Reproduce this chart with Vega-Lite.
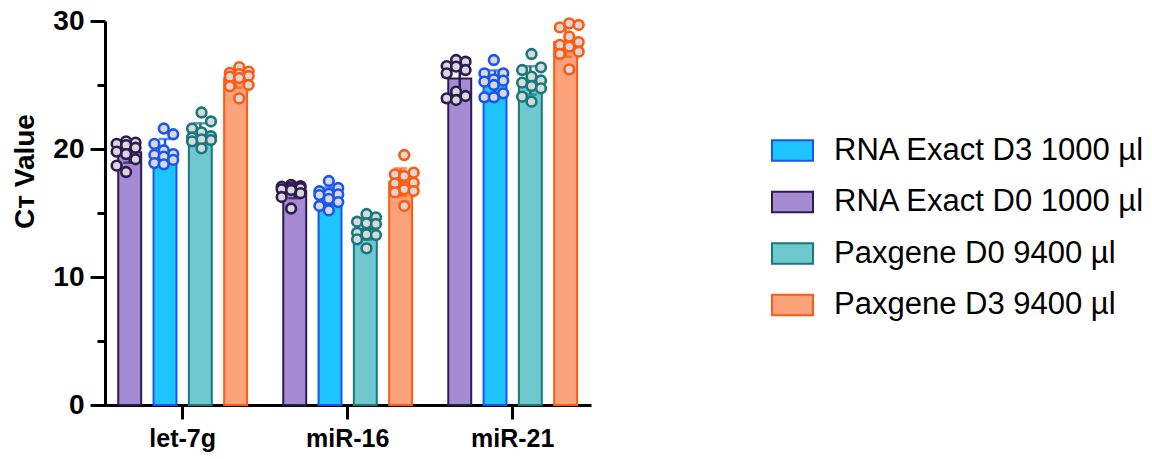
{
  "$schema": "https://vega.github.io/schema/vega-lite/v6.json",
  "width": 499,
  "height": 384,
  "autosize": {"type": "none"},
  "padding": {"left": 92, "top": 21, "right": 561, "bottom": 54},
  "config": {"view": {"stroke": null}, "font": "Liberation Sans"},
  "data": {
    "values": [
      {"gene": "let-7g", "series": "RNA Exact D0 1000 µl", "rep": 1, "ct": 20.6},
      {"gene": "let-7g", "series": "RNA Exact D0 1000 µl", "rep": 2, "ct": 20.5},
      {"gene": "let-7g", "series": "RNA Exact D0 1000 µl", "rep": 3, "ct": 20.4},
      {"gene": "let-7g", "series": "RNA Exact D0 1000 µl", "rep": 4, "ct": 20.3},
      {"gene": "let-7g", "series": "RNA Exact D0 1000 µl", "rep": 5, "ct": 20.1},
      {"gene": "let-7g", "series": "RNA Exact D0 1000 µl", "rep": 6, "ct": 19.8},
      {"gene": "let-7g", "series": "RNA Exact D0 1000 µl", "rep": 7, "ct": 19.6},
      {"gene": "let-7g", "series": "RNA Exact D0 1000 µl", "rep": 8, "ct": 19.2},
      {"gene": "let-7g", "series": "RNA Exact D0 1000 µl", "rep": 9, "ct": 18.7},
      {"gene": "let-7g", "series": "RNA Exact D0 1000 µl", "rep": 10, "ct": 18.2},
      {"gene": "let-7g", "series": "RNA Exact D3 1000 µl", "rep": 1, "ct": 21.6},
      {"gene": "let-7g", "series": "RNA Exact D3 1000 µl", "rep": 2, "ct": 21.15},
      {"gene": "let-7g", "series": "RNA Exact D3 1000 µl", "rep": 3, "ct": 20.4},
      {"gene": "let-7g", "series": "RNA Exact D3 1000 µl", "rep": 4, "ct": 19.9},
      {"gene": "let-7g", "series": "RNA Exact D3 1000 µl", "rep": 5, "ct": 19.6},
      {"gene": "let-7g", "series": "RNA Exact D3 1000 µl", "rep": 6, "ct": 19.55},
      {"gene": "let-7g", "series": "RNA Exact D3 1000 µl", "rep": 7, "ct": 19.4},
      {"gene": "let-7g", "series": "RNA Exact D3 1000 µl", "rep": 8, "ct": 19.15},
      {"gene": "let-7g", "series": "RNA Exact D3 1000 µl", "rep": 9, "ct": 18.9},
      {"gene": "let-7g", "series": "RNA Exact D3 1000 µl", "rep": 10, "ct": 18.8},
      {"gene": "let-7g", "series": "Paxgene D0 9400 µl", "rep": 1, "ct": 22.85},
      {"gene": "let-7g", "series": "Paxgene D0 9400 µl", "rep": 2, "ct": 22.15},
      {"gene": "let-7g", "series": "Paxgene D0 9400 µl", "rep": 3, "ct": 21.6},
      {"gene": "let-7g", "series": "Paxgene D0 9400 µl", "rep": 4, "ct": 21.3},
      {"gene": "let-7g", "series": "Paxgene D0 9400 µl", "rep": 5, "ct": 21.0},
      {"gene": "let-7g", "series": "Paxgene D0 9400 µl", "rep": 6, "ct": 20.9},
      {"gene": "let-7g", "series": "Paxgene D0 9400 µl", "rep": 7, "ct": 20.75},
      {"gene": "let-7g", "series": "Paxgene D0 9400 µl", "rep": 8, "ct": 20.7},
      {"gene": "let-7g", "series": "Paxgene D0 9400 µl", "rep": 9, "ct": 20.6},
      {"gene": "let-7g", "series": "Paxgene D0 9400 µl", "rep": 10, "ct": 20.05},
      {"gene": "let-7g", "series": "Paxgene D3 9400 µl", "rep": 1, "ct": 26.4},
      {"gene": "let-7g", "series": "Paxgene D3 9400 µl", "rep": 2, "ct": 26.05},
      {"gene": "let-7g", "series": "Paxgene D3 9400 µl", "rep": 3, "ct": 25.95},
      {"gene": "let-7g", "series": "Paxgene D3 9400 µl", "rep": 4, "ct": 25.85},
      {"gene": "let-7g", "series": "Paxgene D3 9400 µl", "rep": 5, "ct": 25.7},
      {"gene": "let-7g", "series": "Paxgene D3 9400 µl", "rep": 6, "ct": 25.65},
      {"gene": "let-7g", "series": "Paxgene D3 9400 µl", "rep": 7, "ct": 25.55},
      {"gene": "let-7g", "series": "Paxgene D3 9400 µl", "rep": 8, "ct": 25.0},
      {"gene": "let-7g", "series": "Paxgene D3 9400 µl", "rep": 9, "ct": 24.9},
      {"gene": "let-7g", "series": "Paxgene D3 9400 µl", "rep": 10, "ct": 23.95},
      {"gene": "miR-16", "series": "RNA Exact D0 1000 µl", "rep": 1, "ct": 17.2},
      {"gene": "miR-16", "series": "RNA Exact D0 1000 µl", "rep": 2, "ct": 17.1},
      {"gene": "miR-16", "series": "RNA Exact D0 1000 µl", "rep": 3, "ct": 17.05},
      {"gene": "miR-16", "series": "RNA Exact D0 1000 µl", "rep": 4, "ct": 17.0},
      {"gene": "miR-16", "series": "RNA Exact D0 1000 µl", "rep": 5, "ct": 16.95},
      {"gene": "miR-16", "series": "RNA Exact D0 1000 µl", "rep": 6, "ct": 16.85},
      {"gene": "miR-16", "series": "RNA Exact D0 1000 µl", "rep": 7, "ct": 16.8},
      {"gene": "miR-16", "series": "RNA Exact D0 1000 µl", "rep": 8, "ct": 16.55},
      {"gene": "miR-16", "series": "RNA Exact D0 1000 µl", "rep": 9, "ct": 16.25},
      {"gene": "miR-16", "series": "RNA Exact D0 1000 µl", "rep": 10, "ct": 15.35},
      {"gene": "miR-16", "series": "RNA Exact D3 1000 µl", "rep": 1, "ct": 17.5},
      {"gene": "miR-16", "series": "RNA Exact D3 1000 µl", "rep": 2, "ct": 16.95},
      {"gene": "miR-16", "series": "RNA Exact D3 1000 µl", "rep": 3, "ct": 16.7},
      {"gene": "miR-16", "series": "RNA Exact D3 1000 µl", "rep": 4, "ct": 16.5},
      {"gene": "miR-16", "series": "RNA Exact D3 1000 µl", "rep": 5, "ct": 16.45},
      {"gene": "miR-16", "series": "RNA Exact D3 1000 µl", "rep": 6, "ct": 16.4},
      {"gene": "miR-16", "series": "RNA Exact D3 1000 µl", "rep": 7, "ct": 16.1},
      {"gene": "miR-16", "series": "RNA Exact D3 1000 µl", "rep": 8, "ct": 15.85},
      {"gene": "miR-16", "series": "RNA Exact D3 1000 µl", "rep": 9, "ct": 15.55},
      {"gene": "miR-16", "series": "RNA Exact D3 1000 µl", "rep": 10, "ct": 15.2},
      {"gene": "miR-16", "series": "Paxgene D0 9400 µl", "rep": 1, "ct": 14.92},
      {"gene": "miR-16", "series": "Paxgene D0 9400 µl", "rep": 2, "ct": 14.66},
      {"gene": "miR-16", "series": "Paxgene D0 9400 µl", "rep": 3, "ct": 14.32},
      {"gene": "miR-16", "series": "Paxgene D0 9400 µl", "rep": 4, "ct": 14.19},
      {"gene": "miR-16", "series": "Paxgene D0 9400 µl", "rep": 5, "ct": 14.14},
      {"gene": "miR-16", "series": "Paxgene D0 9400 µl", "rep": 6, "ct": 13.46},
      {"gene": "miR-16", "series": "Paxgene D0 9400 µl", "rep": 7, "ct": 13.33},
      {"gene": "miR-16", "series": "Paxgene D0 9400 µl", "rep": 8, "ct": 13.28},
      {"gene": "miR-16", "series": "Paxgene D0 9400 µl", "rep": 9, "ct": 12.94},
      {"gene": "miR-16", "series": "Paxgene D0 9400 µl", "rep": 10, "ct": 12.24},
      {"gene": "miR-16", "series": "Paxgene D3 9400 µl", "rep": 1, "ct": 19.53},
      {"gene": "miR-16", "series": "Paxgene D3 9400 µl", "rep": 2, "ct": 18.15},
      {"gene": "miR-16", "series": "Paxgene D3 9400 µl", "rep": 3, "ct": 18.02},
      {"gene": "miR-16", "series": "Paxgene D3 9400 µl", "rep": 4, "ct": 17.89},
      {"gene": "miR-16", "series": "Paxgene D3 9400 µl", "rep": 5, "ct": 17.35},
      {"gene": "miR-16", "series": "Paxgene D3 9400 µl", "rep": 6, "ct": 17.32},
      {"gene": "miR-16", "series": "Paxgene D3 9400 µl", "rep": 7, "ct": 16.85},
      {"gene": "miR-16", "series": "Paxgene D3 9400 µl", "rep": 8, "ct": 16.72},
      {"gene": "miR-16", "series": "Paxgene D3 9400 µl", "rep": 9, "ct": 16.61},
      {"gene": "miR-16", "series": "Paxgene D3 9400 µl", "rep": 10, "ct": 15.55},
      {"gene": "miR-21", "series": "RNA Exact D0 1000 µl", "rep": 1, "ct": 26.95},
      {"gene": "miR-21", "series": "RNA Exact D0 1000 µl", "rep": 2, "ct": 26.82},
      {"gene": "miR-21", "series": "RNA Exact D0 1000 µl", "rep": 3, "ct": 26.48},
      {"gene": "miR-21", "series": "RNA Exact D0 1000 µl", "rep": 4, "ct": 26.43},
      {"gene": "miR-21", "series": "RNA Exact D0 1000 µl", "rep": 5, "ct": 26.17},
      {"gene": "miR-21", "series": "RNA Exact D0 1000 µl", "rep": 6, "ct": 25.91},
      {"gene": "miR-21", "series": "RNA Exact D0 1000 µl", "rep": 7, "ct": 24.48},
      {"gene": "miR-21", "series": "RNA Exact D0 1000 µl", "rep": 8, "ct": 24.14},
      {"gene": "miR-21", "series": "RNA Exact D0 1000 µl", "rep": 9, "ct": 23.96},
      {"gene": "miR-21", "series": "RNA Exact D0 1000 µl", "rep": 10, "ct": 23.83},
      {"gene": "miR-21", "series": "RNA Exact D3 1000 µl", "rep": 1, "ct": 26.95},
      {"gene": "miR-21", "series": "RNA Exact D3 1000 µl", "rep": 2, "ct": 25.91},
      {"gene": "miR-21", "series": "RNA Exact D3 1000 µl", "rep": 3, "ct": 25.91},
      {"gene": "miR-21", "series": "RNA Exact D3 1000 µl", "rep": 4, "ct": 25.44},
      {"gene": "miR-21", "series": "RNA Exact D3 1000 µl", "rep": 5, "ct": 25.34},
      {"gene": "miR-21", "series": "RNA Exact D3 1000 µl", "rep": 6, "ct": 25.26},
      {"gene": "miR-21", "series": "RNA Exact D3 1000 µl", "rep": 7, "ct": 25.0},
      {"gene": "miR-21", "series": "RNA Exact D3 1000 µl", "rep": 8, "ct": 24.35},
      {"gene": "miR-21", "series": "RNA Exact D3 1000 µl", "rep": 9, "ct": 24.04},
      {"gene": "miR-21", "series": "RNA Exact D3 1000 µl", "rep": 10, "ct": 24.04},
      {"gene": "miR-21", "series": "Paxgene D0 9400 µl", "rep": 1, "ct": 27.42},
      {"gene": "miR-21", "series": "Paxgene D0 9400 µl", "rep": 2, "ct": 26.38},
      {"gene": "miR-21", "series": "Paxgene D0 9400 µl", "rep": 3, "ct": 26.17},
      {"gene": "miR-21", "series": "Paxgene D0 9400 µl", "rep": 4, "ct": 25.65},
      {"gene": "miR-21", "series": "Paxgene D0 9400 µl", "rep": 5, "ct": 25.35},
      {"gene": "miR-21", "series": "Paxgene D0 9400 µl", "rep": 6, "ct": 25.18},
      {"gene": "miR-21", "series": "Paxgene D0 9400 µl", "rep": 7, "ct": 24.92},
      {"gene": "miR-21", "series": "Paxgene D0 9400 µl", "rep": 8, "ct": 24.74},
      {"gene": "miR-21", "series": "Paxgene D0 9400 µl", "rep": 9, "ct": 24.09},
      {"gene": "miR-21", "series": "Paxgene D0 9400 µl", "rep": 10, "ct": 23.7},
      {"gene": "miR-21", "series": "Paxgene D3 9400 µl", "rep": 1, "ct": 29.82},
      {"gene": "miR-21", "series": "Paxgene D3 9400 µl", "rep": 2, "ct": 29.69},
      {"gene": "miR-21", "series": "Paxgene D3 9400 µl", "rep": 3, "ct": 29.5},
      {"gene": "miR-21", "series": "Paxgene D3 9400 µl", "rep": 4, "ct": 28.78},
      {"gene": "miR-21", "series": "Paxgene D3 9400 µl", "rep": 5, "ct": 28.35},
      {"gene": "miR-21", "series": "Paxgene D3 9400 µl", "rep": 6, "ct": 28.13},
      {"gene": "miR-21", "series": "Paxgene D3 9400 µl", "rep": 7, "ct": 28.0},
      {"gene": "miR-21", "series": "Paxgene D3 9400 µl", "rep": 8, "ct": 27.6},
      {"gene": "miR-21", "series": "Paxgene D3 9400 µl", "rep": 9, "ct": 27.42},
      {"gene": "miR-21", "series": "Paxgene D3 9400 µl", "rep": 10, "ct": 26.22}
    ]
  },
  "transform": [
    {"calculate": "indexof(['RNA Exact D0 1000 µl', 'RNA Exact D3 1000 µl', 'Paxgene D0 9400 µl', 'Paxgene D3 9400 µl'], datum.series) * 4 + datum.rep % 3", "as": "slot"}
  ],
  "encoding": {
    "x": {
      "field": "gene",
      "type": "nominal",
      "sort": ["let-7g", "miR-16", "miR-21"],
      "scale": {"paddingInner": 0.2, "paddingOuter": 0.112, "align": 0.667},
      "axis": {
        "title": null,
        "labelAngle": 0,
        "domainWidth": 3,
        "domainColor": "black",
        "tickWidth": 3,
        "tickSize": 14,
        "tickColor": "black",
        "labelFont": "Liberation Sans",
        "labelFontSize": 25,
        "labelFontWeight": "bold",
        "labelColor": "black",
        "labelPadding": 7
      }
    }
  },
  "layer": [
    {
      "mark": {"type": "bar", "strokeWidth": 2},
      "encoding": {
        "xOffset": {
          "field": "series",
          "type": "nominal",
          "sort": ["RNA Exact D0 1000 µl", "RNA Exact D3 1000 µl", "Paxgene D0 9400 µl", "Paxgene D3 9400 µl"],
          "scale": {"paddingInner": 0.35, "paddingOuter": 0.045}
        },
        "y": {
          "aggregate": "mean",
          "field": "ct",
          "type": "quantitative",
          "scale": {"domain": [0, 30], "nice": false, "zero": true},
          "axis": {
            "title": "Cᴛ Value",
            "titleFont": "Liberation Sans",
            "titleFontSize": 28,
            "titleFontWeight": "bold",
            "titleColor": "black",
            "titleBaseline": "alphabetic",
            "titleX": -72,
            "titleY": 150,
            "values": [0, 5, 10, 15, 20, 25, 30],
            "labelExpr": "datum.value % 10 === 0 ? datum.label : ''",
            "tickSize": 15,
            "tickDash": {"condition": {"test": "datum.value % 10 !== 0", "value": [8, 40]}, "value": [1000, 0]},
            "tickWidth": 3,
            "tickColor": "black",
            "domainWidth": 3,
            "domainColor": "black",
            "labelFont": "Liberation Sans",
            "labelFontSize": 28,
            "labelFontWeight": "bold",
            "labelColor": "black",
            "labelPadding": 6,
            "offset": -13,
            "grid": false
          }
        },
        "fill": {
          "field": "series",
          "type": "nominal",
          "scale": {
            "domain": ["RNA Exact D3 1000 µl", "RNA Exact D0 1000 µl", "Paxgene D0 9400 µl", "Paxgene D3 9400 µl"],
            "range": ["#1ec4ff", "#a58bd1", "#70c8cf", "#fca27a"]
          },
          "legend": {
            "title": null,
            "orient": "none",
            "legendX": 679,
            "legendY": 108,
            "symbolType": "M-1,-0.5H1V0.5H-1Z",
            "symbolSize": 1681,
            "symbolStrokeWidth": 2,
            "symbolOpacity": 1,
            "labelFont": "Liberation Sans",
            "labelFontSize": 31,
            "labelColor": "black",
            "labelOffset": 20,
            "labelLimit": 0,
            "rowPadding": 14.5
          }
        },
        "stroke": {
          "field": "series",
          "type": "nominal",
          "scale": {
            "domain": ["RNA Exact D3 1000 µl", "RNA Exact D0 1000 µl", "Paxgene D0 9400 µl", "Paxgene D3 9400 µl"],
            "range": ["#1a55f0", "#2d1b52", "#18787e", "#ff5a12"]
          },
          "legend": {
            "title": null,
            "orient": "none",
            "legendX": 679,
            "legendY": 108,
            "symbolType": "M-1,-0.5H1V0.5H-1Z",
            "symbolSize": 1681,
            "symbolStrokeWidth": 2,
            "symbolOpacity": 1,
            "labelFont": "Liberation Sans",
            "labelFontSize": 31,
            "labelColor": "black",
            "labelOffset": 20,
            "labelLimit": 0,
            "rowPadding": 14.5
          }
        }
      }
    },
    {
      "transform": [
        {"aggregate": [{"op": "mean", "field": "ct", "as": "m"}, {"op": "stdev", "field": "ct", "as": "sd"}], "groupby": ["gene", "series"]},
        {"calculate": "datum.m - datum.sd", "as": "lo"},
        {"calculate": "datum.m + datum.sd", "as": "hi"}
      ],
      "layer": [
        {
          "mark": {"type": "rule", "strokeWidth": 2.5},
          "encoding": {
            "xOffset": {
              "field": "series",
              "type": "nominal",
              "sort": ["RNA Exact D0 1000 µl", "RNA Exact D3 1000 µl", "Paxgene D0 9400 µl", "Paxgene D3 9400 µl"],
              "scale": {"paddingInner": 0.35, "paddingOuter": 0.045}
            },
            "y": {"field": "lo", "type": "quantitative", "scale": {"domain": [0, 30], "nice": false}},
            "y2": {"field": "hi"},
            "stroke": {
              "field": "series",
              "type": "nominal",
              "scale": {
                "domain": ["RNA Exact D3 1000 µl", "RNA Exact D0 1000 µl", "Paxgene D0 9400 µl", "Paxgene D3 9400 µl"],
                "range": ["#1a55f0", "#2d1b52", "#18787e", "#ff5a12"]
              },
              "legend": null
            }
          }
        },
        {
          "mark": {"type": "tick", "thickness": 2.5, "size": 13, "orient": "horizontal"},
          "encoding": {
            "xOffset": {
              "field": "series",
              "type": "nominal",
              "sort": ["RNA Exact D0 1000 µl", "RNA Exact D3 1000 µl", "Paxgene D0 9400 µl", "Paxgene D3 9400 µl"],
              "scale": {"paddingInner": 0.35, "paddingOuter": 0.045}
            },
            "y": {"field": "hi", "type": "quantitative", "scale": {"domain": [0, 30], "nice": false}},
            "color": {
              "field": "series",
              "type": "nominal",
              "scale": {
                "domain": ["RNA Exact D3 1000 µl", "RNA Exact D0 1000 µl", "Paxgene D0 9400 µl", "Paxgene D3 9400 µl"],
                "range": ["#1a55f0", "#2d1b52", "#18787e", "#ff5a12"]
              },
              "legend": null
            }
          }
        },
        {
          "mark": {"type": "tick", "thickness": 2.5, "size": 13, "orient": "horizontal"},
          "encoding": {
            "xOffset": {
              "field": "series",
              "type": "nominal",
              "sort": ["RNA Exact D0 1000 µl", "RNA Exact D3 1000 µl", "Paxgene D0 9400 µl", "Paxgene D3 9400 µl"],
              "scale": {"paddingInner": 0.35, "paddingOuter": 0.045}
            },
            "y": {"field": "lo", "type": "quantitative", "scale": {"domain": [0, 30], "nice": false}},
            "color": {
              "field": "series",
              "type": "nominal",
              "scale": {
                "domain": ["RNA Exact D3 1000 µl", "RNA Exact D0 1000 µl", "Paxgene D0 9400 µl", "Paxgene D3 9400 µl"],
                "range": ["#1a55f0", "#2d1b52", "#18787e", "#ff5a12"]
              },
              "legend": null
            }
          }
        }
      ]
    },
    {
      "mark": {"type": "point", "shape": "circle", "filled": false, "fill": "#d9d9d9", "fillOpacity": 1, "size": 95, "strokeWidth": 2.6, "opacity": 1},
      "encoding": {
        "xOffset": {
          "field": "slot",
          "type": "ordinal",
          "scale": {"domain": [0, 1, 2, 3, 4, 5, 6, 7, 8, 9, 10, 11, 12, 13, 14], "paddingInner": 0, "paddingOuter": 0}
        },
        "y": {"field": "ct", "type": "quantitative", "scale": {"domain": [0, 30], "nice": false}},
        "stroke": {
          "field": "series",
          "type": "nominal",
          "scale": {
            "domain": ["RNA Exact D3 1000 µl", "RNA Exact D0 1000 µl", "Paxgene D0 9400 µl", "Paxgene D3 9400 µl"],
            "range": ["#1a55f0", "#2d1b52", "#18787e", "#ff5a12"]
          },
          "legend": null
        }
      }
    }
  ],
  "resolve": {"scale": {"xOffset": "independent", "color": "independent"}}
}
